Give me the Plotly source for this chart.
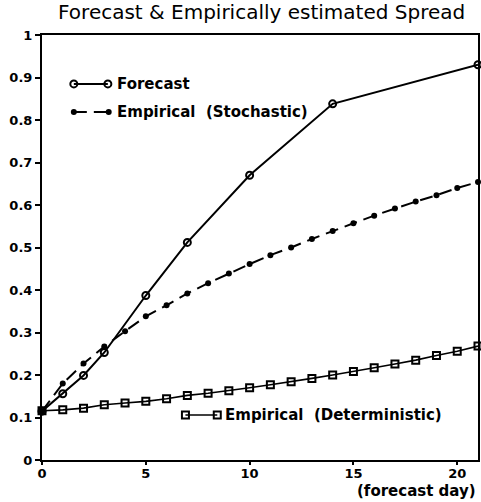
import plotly.graph_objects as go

# ---- data ----
forecast_days = [0, 1, 2, 3, 5, 7, 10, 14, 21]
forecast_spread = [0.115, 0.156, 0.199, 0.253, 0.387, 0.512, 0.670, 0.838, 0.930]

days = list(range(22))
stochastic_spread = [0.115, 0.180, 0.227, 0.267, 0.303, 0.338, 0.364, 0.392, 0.416, 0.439, 0.461,
                     0.482, 0.500, 0.520, 0.539, 0.557, 0.575, 0.592, 0.608, 0.623, 0.640, 0.654]
deterministic_spread = [0.116, 0.118, 0.122, 0.130, 0.134, 0.138, 0.144, 0.152, 0.157, 0.163, 0.170,
                        0.177, 0.184, 0.192, 0.200, 0.208, 0.217, 0.226, 0.235, 0.246, 0.256, 0.268]

x_ticks = [0, 5, 10, 15, 20]
y_ticks = [0, 0.1, 0.2, 0.3, 0.4, 0.5, 0.6, 0.7, 0.8, 0.9, 1]
y_tick_labels = ["0", "0.1", "0.2", "0.3", "0.4", "0.5", "0.6", "0.7", "0.8", "0.9", "1"]

series_names = ["Forecast", "Empirical  (Stochastic)", "Empirical  (Deterministic)"]

# legend-key placement (paper fractions of the plot area)
key_rows = [
    dict(x=[0.073, 0.151], y=0.885, label_x=0.168),
    dict(x=[0.073, 0.153], y=0.819, label_x=0.168),
    dict(x=[0.329, 0.402], y=0.106, label_x=0.416),
]

FONT = "DejaVu Sans"
BLACK = "#000000"

styles = [
    dict(line=dict(color=BLACK, width=2),
         marker=dict(symbol="circle-open", size=7, color=BLACK, line=dict(width=2))),
    dict(line=dict(color=BLACK, width=2, dash="13px,7px"),
         marker=dict(symbol="circle", size=6, color=BLACK)),
    dict(line=dict(color=BLACK, width=1.6),
         marker=dict(symbol="square-open", size=7, color=BLACK, line=dict(width=2))),
]

fig = go.Figure()
xs = [forecast_days, days, days]
ys = [forecast_spread, stochastic_spread, deterministic_spread]
for i in range(3):
    fig.add_trace(go.Scatter(x=xs[i], y=ys[i], mode="lines+markers", name=series_names[i],
                             line=styles[i]["line"], marker=styles[i]["marker"],
                             cliponaxis=False, showlegend=False))

# hand-drawn style legend keys on an overlay axis spanning the plot area
for i, row in enumerate(key_rows):
    fig.add_trace(go.Scatter(x=row["x"], y=[row["y"], row["y"]], mode="lines+markers",
                             xaxis="x2", yaxis="y2",
                             line=styles[i]["line"], marker=styles[i]["marker"],
                             showlegend=False, hoverinfo="skip"))
    fig.add_annotation(x=row["label_x"], y=row["y"], xref="x2", yref="y2",
                       text=series_names[i], showarrow=False, xanchor="left", yanchor="middle",
                       font=dict(family=FONT, size=15, color=BLACK, weight="bold"))

fig.add_annotation(x=1, y=-0.074, xref="paper", yref="paper", text="(forecast day)",
                   showarrow=False, xanchor="right", yanchor="middle",
                   font=dict(family=FONT, size=15, color=BLACK, weight="bold"))

fig.update_layout(
    width=481, height=502,
    margin=dict(l=42, r=1, t=35, b=42),
    paper_bgcolor="white", plot_bgcolor="white",
    title=dict(text="Forecast & Empirically estimated Spread", x=0.544, xanchor="center",
               y=0.99, yanchor="top",
               font=dict(family=FONT, size=20, color=BLACK)),
    xaxis=dict(range=[0, 21], tickvals=x_ticks, ticks="outside", ticklen=3, tickwidth=1.5,
               ticklabelstandoff=-3,
               tickcolor=BLACK, showgrid=False, zeroline=False, showline=True, linewidth=2,
               linecolor=BLACK, mirror=True,
               tickfont=dict(family=FONT, size=13, color=BLACK, weight="bold")),
    yaxis=dict(range=[0, 1], tickvals=y_ticks, ticktext=y_tick_labels, ticks="outside",
               ticklen=5, tickwidth=1.5, tickcolor=BLACK, showgrid=False, zeroline=False,
               showline=True, linewidth=2, linecolor=BLACK, mirror=True,
               tickfont=dict(family=FONT, size=13, color=BLACK, weight="bold")),
    xaxis2=dict(range=[0, 1], overlaying="x", visible=False),
    yaxis2=dict(range=[0, 1], overlaying="y", visible=False),
)

fig.write_html("out.html")
